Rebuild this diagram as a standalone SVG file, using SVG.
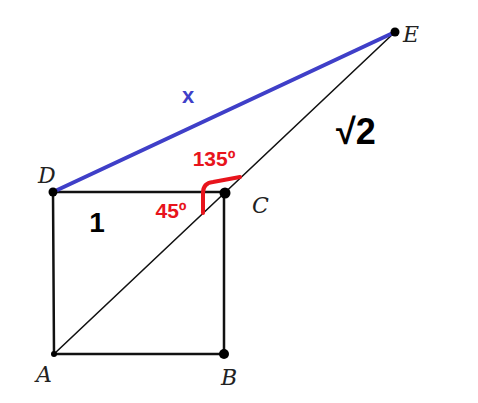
<svg xmlns="http://www.w3.org/2000/svg" width="478" height="403" viewBox="0 0 478 403">
<style>
.pt{font-family:"DejaVu Serif","Liberation Serif",serif;font-style:italic;font-size:22px;fill:#222}
.red{font-family:"Liberation Sans",Arial,sans-serif;font-weight:bold;font-size:21px;fill:#e8141c}
.blk{font-family:"Liberation Sans",Arial,sans-serif;font-weight:bold;fill:#000}
</style>
<rect width="478" height="403" fill="#fff"/>
<g id="connectors" fill="none" stroke-linecap="round">
<line x1="53" y1="192" x2="224" y2="192" stroke="#111" stroke-width="2.5"/>
<line x1="53" y1="192" x2="54" y2="354" stroke="#111" stroke-width="2.5"/>
<line x1="54" y1="354" x2="224" y2="354" stroke="#111" stroke-width="2.5"/>
<line x1="224" y1="192" x2="224" y2="354" stroke="#111" stroke-width="2.5"/>
<line x1="54" y1="354" x2="395" y2="32" stroke="#111" stroke-width="1.6"/>
<line x1="53" y1="192" x2="395" y2="32" stroke="#3f3fc8" stroke-width="4"/>
<path d="M203,213 L203,193 Q203,183 213,182 L240,177" stroke="#e8141c" stroke-width="4"/>
</g>
<g id="A"><circle cx="54" cy="354" r="3" fill="#000"/><text class="pt" x="36" y="382">A</text></g>
<g id="B"><circle cx="224" cy="354" r="5" fill="#000"/><text class="pt" x="221" y="385">B</text></g>
<g id="C"><circle cx="225" cy="193" r="5.5" fill="#000"/><text class="pt" x="252" y="213">C</text></g>
<g id="D"><circle cx="53" cy="192" r="4.5" fill="#000"/><text class="pt" x="38" y="183">D</text></g>
<g id="E"><circle cx="395" cy="32" r="4.5" fill="#000"/><text class="pt" x="403" y="42">E</text></g>
<g id="labels">
<text class="blk" x="188" y="103" font-size="22" style="fill:#3f3fc8" text-anchor="middle">x</text>
<text class="blk" x="97" y="232" font-size="28" text-anchor="middle">1</text>
<text class="blk" x="356" y="144" font-size="36" text-anchor="middle">√2</text>
<text class="red" x="214" y="166" text-anchor="middle">135º</text>
<text class="red" x="171" y="218" text-anchor="middle">45º</text>
</g>
</svg>
